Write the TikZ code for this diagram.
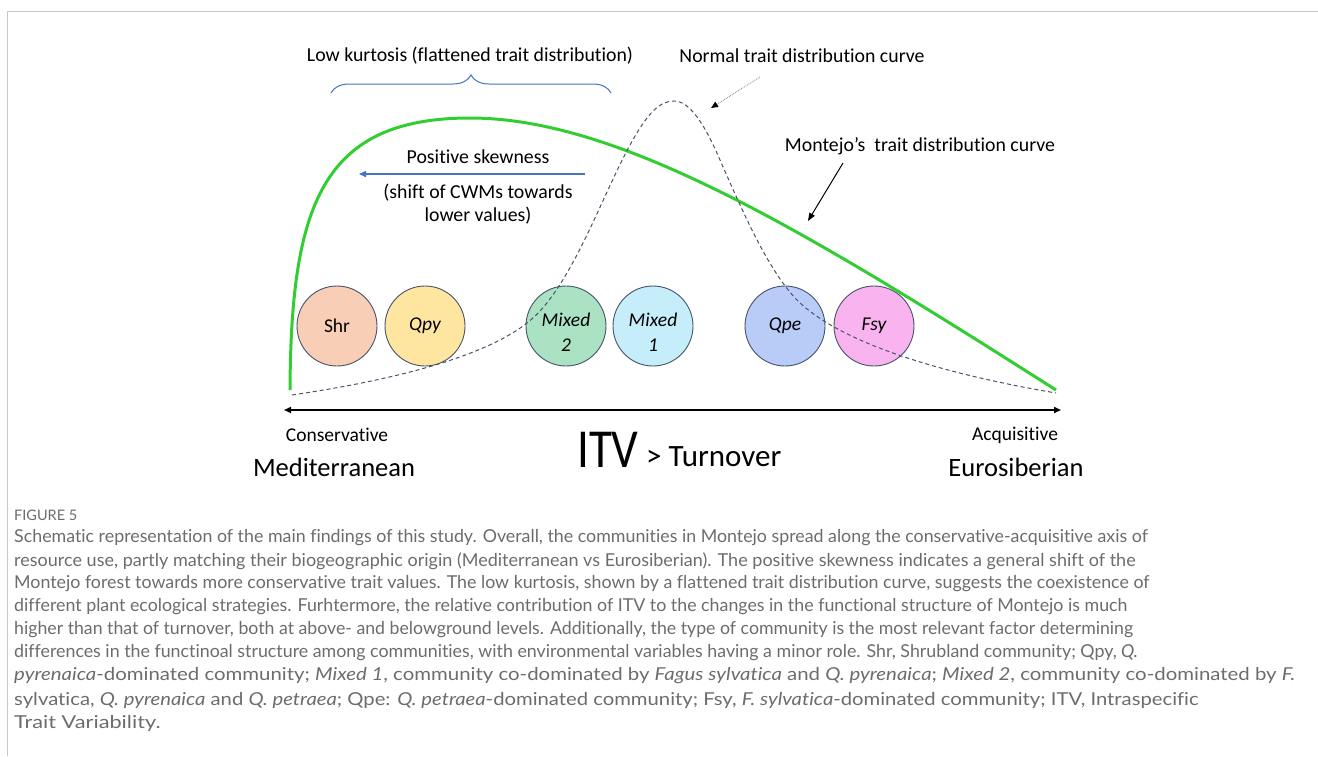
\documentclass[tikz,border=0pt]{standalone}
\usepackage{fontspec}
\setmainfont[Ligatures=NoCommon]{Carlito}
\newfontfamily\capfont[Ligatures=NoCommon]{Lato}
\usetikzlibrary{arrows.meta,decorations.pathreplacing}
\definecolor{curvegreen}{RGB}{50,205,50}
\definecolor{navyline}{RGB}{68,84,106}
\definecolor{braceblue}{RGB}{68,114,196}
\definecolor{framegray}{RGB}{200,200,200}
\definecolor{capgray}{RGB}{108,108,108}
\definecolor{cShr}{RGB}{248,206,182}
\definecolor{cQpy}{RGB}{255,230,160}
\definecolor{cMixB}{RGB}{170,226,195}
\definecolor{cMixA}{RGB}{198,238,250}
\definecolor{cQpe}{RGB}{185,203,247}
\definecolor{cFsy}{RGB}{249,180,240}
\newcommand{\twoline}[2]{\raisebox{-14pt}[0pt][0pt]{\begin{tabular}{@{}c@{}}#1\\[3pt]#2\end{tabular}}}
\tikzset{
  comm/.style={circle, draw=navyline, line width=0.9pt, minimum size=80pt, inner sep=0pt, font=\fontsize{19.5}{22}\selectfont},
  lbl/.style={inner sep=0pt, font=\fontsize{19.8}{23}\selectfont},
  captxt/.style={anchor=west, inner sep=0pt, text=capgray, font=\capfont\fontsize{17.8}{20}\selectfont},
}
\begin{document}
\begin{tikzpicture}[x=1pt,y=-1pt]
\useasboundingbox (0,0) rectangle (1318,756);
% frame
\draw[framegray, line width=1pt] (7,756) -- (7,11.5) -- (1318,11.5);

% labels top
\node[lbl] (kurt) at (470,56) {Low kurtosis (flattened trait distribution)};
\draw[braceblue, line width=1pt, decorate, decoration={brace, amplitude=18pt}] (331,93) -- (611,93);
\node[lbl] (normlbl) at (802,56) {Normal trait distribution curve};
\node[lbl] (montlbl) at (920,146) {Montejo’s\ \ trait distribution curve};
\node[lbl] (skew) at (478,157) {Positive skewness};
\node[lbl, align=center] (shift) at (478,204) {(shift of CWMs towards\\lower values)};

% communities
\node[comm, fill=cShr] (shr) at (337,326) {Shr};
\node[comm, fill=cQpy] (qpy) at (425,326) {\itshape Qpy};
\node[comm, fill=cMixB] (mix2) at (566,326) {\twoline{\itshape Mixed}{\itshape 2}};
\node[comm, fill=cMixA] (mix1) at (653,326) {\twoline{\itshape Mixed}{\itshape 1}};
\node[comm, fill=cQpe] (qpe) at (785,326) {\itshape Qpe};
\node[comm, fill=cFsy] (fsy) at (874,326) {\itshape Fsy};

% Montejo curve
\coordinate (gL) at (290,390);
\coordinate (gP) at (470,118);
\coordinate (gR) at (1056,390);
\draw[curvegreen, line width=3pt] (gL) .. controls (291,205) and (322,118) .. (gP)
   .. controls (620,118) and (806,231) .. (gR);

% normal curve
\draw[navyline, line width=1pt, dash pattern=on 4pt off 3pt]
  (292,395) .. controls (380,382) and (480,360) .. (527,323)
  .. controls (570,290) and (600,200) .. (630,145)
  .. controls (648,112) and (660,101) .. (674,101)
  .. controls (690,101) and (705,125) .. (720,160)
  .. controls (740,205) and (765,265) .. (795,298)
  .. controls (840,345) and (950,375) .. (1056,393);

% arrows
\coordinate (nA) at (760,77);
\coordinate (nB) at (711,108);
\draw[gray, line width=0.8pt, densely dotted, -{Triangle[black, length=7pt, width=6pt]}] (nA) -- (nB);
\coordinate (mA) at (843,163);
\coordinate (mB) at (808,221);
\draw[black, line width=1pt, -{Triangle[length=8pt, width=6pt]}] (mA) -- (mB);
\coordinate (sA) at (585,174);
\coordinate (sB) at (359,174);
\draw[braceblue, line width=1.4pt, -{Triangle[length=7pt, width=6pt]}] (sA) -- (sB);

% axis
\coordinate (axL) at (284,410);
\coordinate (axR) at (1061,410);
\draw[black, line width=1.6pt, {Triangle[length=7pt, width=6pt]}-{Triangle[length=7pt, width=6pt]}] (axL) -- (axR);

\node[inner sep=0pt, font=\fontsize{19.5}{22}\selectfont] (cons) at (337,435) {Conservative};
\node[inner sep=0pt, font=\fontsize{19.5}{22}\selectfont] (acq) at (1015,435) {Acquisitive};
\node[inner sep=0pt, font=\fontsize{26.5}{30}\selectfont] (med) at (334,467) {Mediterranean};
\node[inner sep=0pt, font=\fontsize{26.5}{30}\selectfont] (euro) at (1016,467) {Eurosiberian};
\node[inner sep=0pt, anchor=base west, font=\fontsize{50}{56}\selectfont] (itv) at (577,467) {\scalebox{0.94}[1.1]{ITV}};
\node[inner sep=0pt, anchor=base west, font=\fontsize{31}{34}\selectfont] (turn) at (646,466) {> Turnover};

% caption
\node[captxt, font=\capfont\fontsize{14.5}{16}\selectfont] (fig) at (14,515) {FIGURE 5};
\node[captxt] (c1) at (14,538) {Schematic representation of the main findings of this study. Overall, the communities in Montejo spread along the conservative-acquisitive axis of};
\node[captxt] (c2) at (14,561) {\scalebox{1.012}[1]{resource use, partly matching their biogeographic origin (Mediterranean vs Eurosiberian). The positive skewness indicates a general shift of the}};
\node[captxt] (c3) at (14,584) {Montejo forest towards more conservative trait values. The low kurtosis, shown by a flattened trait distribution curve, suggests the coexistence of};
\node[captxt] (c4) at (14,607) {different plant ecological strategies. Furhtermore, the relative contribution of ITV to the changes in the functional structure of Montejo is much};
\node[captxt] (c5) at (14,630) {\scalebox{0.995}[1]{higher than that of turnover, both at above- and belowground levels. Additionally, the type of community is the most relevant factor determining}};
\node[captxt] (c6) at (14,653) {differences in the functinoal structure among communities, with environmental variables having a minor role. Shr, Shrubland community; Qpy, \textit{Q.}};
\node[captxt] (c7) at (14,676) {\scalebox{1.145}[1]{\textit{pyrenaica}-dominated community; \textit{Mixed 1}, community co-dominated by \textit{Fagus sylvatica} and \textit{Q. pyrenaica}; \textit{Mixed 2}, community co-dominated by \textit{F.}}};
\node[captxt] (c8) at (14,700) {\scalebox{1.138}[1]{sylvatica, \textit{Q. pyrenaica} and \textit{Q. petraea}; Qpe: \textit{Q. petraea}-dominated community; Fsy, \textit{F. sylvatica}-dominated community; ITV, Intraspecific}};
\node[captxt] (c9) at (14,723) {\scalebox{1.22}[1]{Trait Variability.}};
\end{tikzpicture}
\end{document}
